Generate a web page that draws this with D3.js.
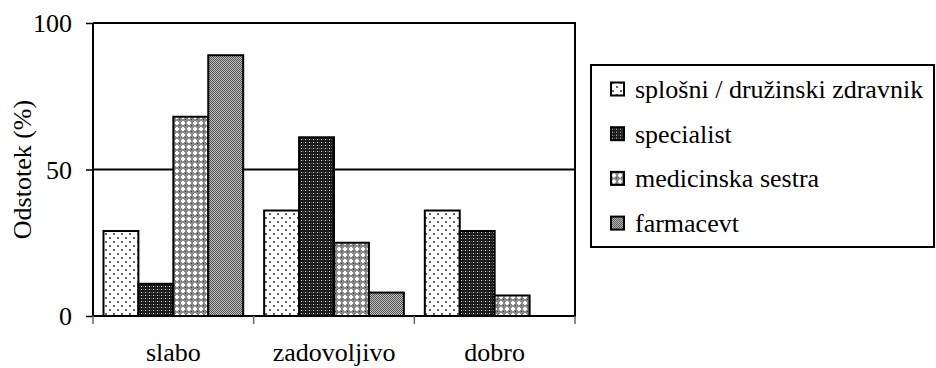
<!DOCTYPE html>
<html>
<head>
<meta charset="utf-8">
<script src="https://cdn.jsdelivr.net/npm/d3@7"></script>
</head>
<body style="margin:0;background:#fff">
<svg id="chart" width="936" height="368"></svg>
<script>
// Rating categories and the percentage for each professional group
const categories = ["slabo", "zadovoljivo", "dobro"];
const seriesNames = ["splošni / družinski zdravnik", "specialist", "medicinska sestra", "farmacevt"];
const splosni = [29, 36, 36];
const specialist = [11, 61, 29];
const sestra = [68, 25, 7];
const farmacevt = [89, 8, 0];
const yTicks = [0, 50, 100];
const yTitle = "Odstotek (%)";

const seriesValues = [splosni, specialist, sestra, farmacevt];
const patternIds = ["p-dots", "p-dark", "p-cross", "p-check"];
const FONT = "Liberation Serif, Tinos, Times New Roman, Times, serif";
const FS = 26;

const svg = d3.select("#chart");
const margin = { left: 93, right: 575, top: 23, bottom: 316 };

// Fill patterns for the four groups
const defs = svg.append("defs");

// sparse gray dots on white
const p1 = defs.append("pattern").attr("id", "p-dots")
  .attr("patternUnits", "userSpaceOnUse").attr("width", 8).attr("height", 8);
p1.append("rect").attr("width", 8).attr("height", 8).attr("fill", "#fff");
p1.append("rect").attr("x", 1).attr("y", 1).attr("width", 2).attr("height", 2).attr("fill", "#666");
p1.append("rect").attr("x", 5).attr("y", 5).attr("width", 2).attr("height", 2).attr("fill", "#666");

// dark ground with small white dots
const p2 = defs.append("pattern").attr("id", "p-dark")
  .attr("patternUnits", "userSpaceOnUse").attr("width", 4).attr("height", 3);
p2.append("rect").attr("width", 4).attr("height", 3).attr("fill", "#1a1a1a");
p2.append("rect").attr("x", 1).attr("y", 1).attr("width", 1).attr("height", 1).attr("fill", "#ddd");
p2.append("rect").attr("x", 3).attr("y", 1).attr("width", 1).attr("height", 1).attr("fill", "#555");

// gray lattice with white crosses
const p3 = defs.append("pattern").attr("id", "p-cross")
  .attr("patternUnits", "userSpaceOnUse").attr("width", 6).attr("height", 6);
p3.append("rect").attr("width", 6).attr("height", 6).attr("fill", "#8a8a8a");
p3.append("rect").attr("x", 2).attr("y", 1).attr("width", 2).attr("height", 4).attr("fill", "#fff");
p3.append("rect").attr("x", 1).attr("y", 2).attr("width", 4).attr("height", 2).attr("fill", "#fff");
p3.append("rect").attr("x", 5).attr("y", 5).attr("width", 1).attr("height", 1).attr("fill", "#333");

// fine gray checker
const p4 = defs.append("pattern").attr("id", "p-check")
  .attr("patternUnits", "userSpaceOnUse").attr("width", 2).attr("height", 2);
p4.append("rect").attr("width", 2).attr("height", 2).attr("fill", "#bdbdbd");
p4.append("rect").attr("x", 0).attr("y", 0).attr("width", 1).attr("height", 1).attr("fill", "#555");
p4.append("rect").attr("x", 1).attr("y", 1).attr("width", 1).attr("height", 1).attr("fill", "#555");

// Scales
const x = d3.scaleBand().domain(categories).range([margin.left, margin.right]);
const x1 = d3.scaleBand().domain(seriesNames).range([0, x.bandwidth()])
  .paddingInner(0).paddingOuter(0.3);
const y = d3.scaleLinear().domain([0, 100]).range([margin.bottom, margin.top]);

// Gridline at 50 and the plot frame (top, right)
svg.append("g").selectAll("line").data(yTicks.filter(t => t > 0 && t < 100)).join("line")
  .attr("x1", margin.left).attr("x2", margin.right)
  .attr("y1", d => y(d)).attr("y2", d => y(d))
  .attr("stroke", "#000").attr("stroke-width", 2);
svg.append("line").attr("x1", margin.left).attr("x2", margin.right + 1)
  .attr("y1", y(100)).attr("y2", y(100)).attr("stroke", "#000").attr("stroke-width", 2);
svg.append("line").attr("x1", margin.right).attr("x2", margin.right)
  .attr("y1", y(100)).attr("y2", y(0)).attr("stroke", "#000").attr("stroke-width", 2);

// Bars
const rows = [];
categories.forEach((c, ci) => {
  seriesNames.forEach((s, si) => {
    rows.push({ cat: c, series: s, si, value: seriesValues[si][ci] });
  });
});
svg.append("g").selectAll("rect").data(rows.filter(d => d.value > 0)).join("rect")
  .attr("x", d => x(d.cat) + x1(d.series))
  .attr("y", d => y(d.value))
  .attr("width", x1.bandwidth())
  .attr("height", d => y(0) - y(d.value))
  .attr("fill", d => `url(#${patternIds[d.si]})`)
  .attr("stroke", "#000").attr("stroke-width", 2);

// Y axis
const yAxis = svg.append("g").attr("transform", `translate(${margin.left},0)`)
  .call(d3.axisLeft(y).tickValues(yTicks).tickSize(7).tickPadding(14).tickFormat(d3.format("d")));
yAxis.attr("font-family", FONT).attr("font-size", FS);
yAxis.select(".domain").attr("stroke", "#000").attr("stroke-width", 2).attr("d", `M0,${y(100)}V${y(0)}`);
yAxis.selectAll(".tick line").attr("stroke", "#000").attr("stroke-width", 1.5);
yAxis.selectAll(".tick text").attr("font-family", FONT).attr("font-size", FS).attr("dy", "0.34em");

// X axis: category labels, plus separators at the band edges
const xAxis = svg.append("g").attr("transform", `translate(0,${margin.bottom})`)
  .call(d3.axisBottom(x).tickSize(0).tickPadding(27));
xAxis.attr("font-family", FONT).attr("font-size", FS);
xAxis.select(".domain").attr("stroke", "#000").attr("stroke-width", 2)
  .attr("d", `M${margin.left},0H${margin.right + 1}`);
xAxis.selectAll(".tick text").attr("font-family", FONT).attr("font-size", FS);
const edges = categories.map(c => x(c)).concat([x.range()[1]]);
svg.append("g").selectAll("line").data(edges).join("line")
  .attr("x1", d => d).attr("x2", d => d)
  .attr("y1", margin.bottom).attr("y2", margin.bottom + 8)
  .attr("stroke", "#666").attr("stroke-width", 1.5);

// Y axis title
svg.append("text")
  .attr("transform", `translate(31,${(y(0) + y(100)) / 2}) rotate(-90)`)
  .attr("text-anchor", "middle")
  .attr("font-family", FONT).attr("font-size", FS)
  .text(yTitle);

// Legend
const legend = svg.append("g");
legend.append("rect").attr("x", 591).attr("y", 65).attr("width", 343).attr("height", 182)
  .attr("fill", "#fff").attr("stroke", "#000").attr("stroke-width", 2);
const items = legend.selectAll("g.item").data(seriesNames).join("g")
  .attr("class", "item")
  .attr("transform", (d, i) => `translate(611,${89 + i * 44.7})`);
items.append("rect").attr("x", 0).attr("y", -6.5).attr("width", 13).attr("height", 13)
  .attr("fill", (d, i) => `url(#${patternIds[i]})`)
  .attr("stroke", "#000").attr("stroke-width", 2);
items.append("text").attr("x", 24).attr("y", 9)
  .attr("font-family", FONT).attr("font-size", FS).text(d => d);
</script>
</body>
</html>
